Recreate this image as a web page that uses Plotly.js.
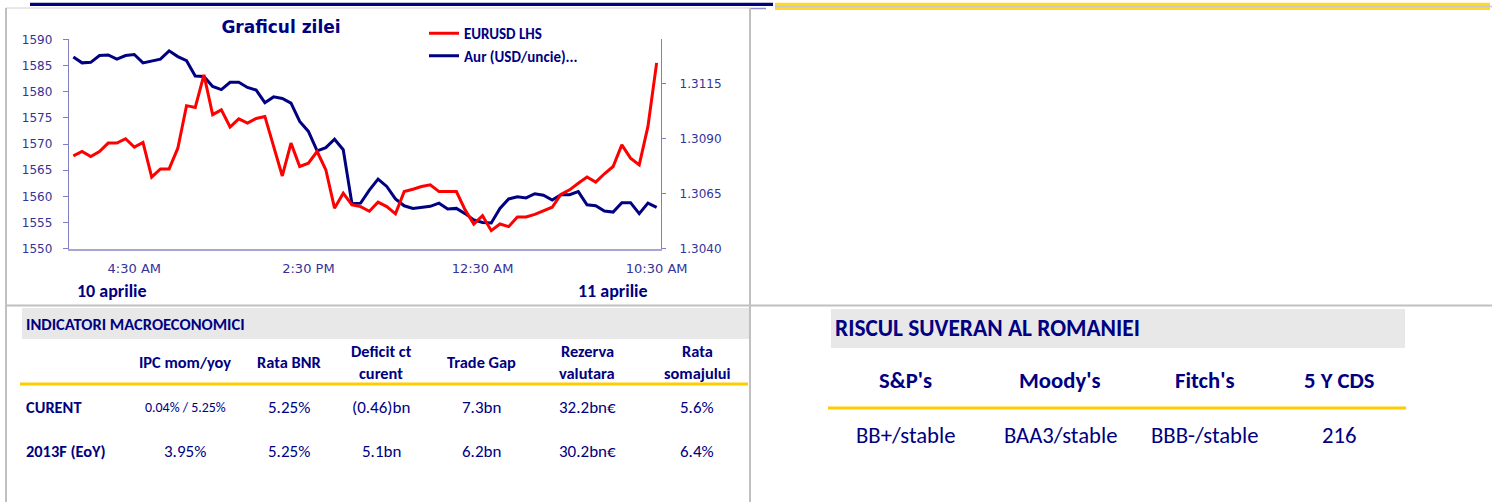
<!DOCTYPE html>
<html>
<head>
<meta charset="utf-8">
<script src="https://cdn.plot.ly/plotly-3.0.1.min.js"></script>
<style>html,body{margin:0;padding:0;background:#fff;}#chart{width:1492px;height:502px;}</style>
</head>
<body>
<div id="chart"></div>
<script>
// ---- data ----
const seriesStart = '2013-04-10 01:00';   // first half-hourly observation
const stepMinutes = 30;
const eurusd = [1.30821,1.30841,1.30818,1.30841,1.30879,1.30879,1.30899,1.30861,1.30882,1.30725,
  1.30762,1.30762,1.30856,1.31049,1.31041,1.31189,1.31008,1.31030,1.30952,1.30989,
  1.30970,1.30991,1.31000,1.30864,1.30730,1.30879,1.30773,1.30788,1.30841,1.30758,
  1.30584,1.30652,1.30599,1.30591,1.30570,1.30611,1.30591,1.30558,1.30659,1.30670,
  1.30682,1.30690,1.30659,1.30659,1.30659,1.30576,1.30512,1.30550,1.30482,1.30512,
  1.30500,1.30544,1.30544,1.30556,1.30571,1.30588,1.30646,1.30667,1.30697,1.30725,
  1.30702,1.30740,1.30773,1.30871,1.30811,1.30780,1.30955,1.31243];
const aur = [1586.6,1585.5,1585.6,1586.9,1587.0,1586.2,1586.9,1587.1,1585.5,1585.9,
  1586.2,1587.8,1586.7,1585.9,1583.0,1582.9,1581.0,1580.4,1581.8,1581.8,
  1580.8,1580.3,1577.9,1579.0,1578.7,1577.8,1574.3,1572.4,1568.7,1569.3,
  1570.9,1568.9,1558.6,1558.7,1561.2,1563.3,1561.9,1559.5,1558.2,1557.7,
  1557.9,1558.1,1558.7,1557.6,1557.7,1556.7,1555.5,1555.0,1554.9,1557.7,
  1559.5,1559.9,1559.7,1560.5,1560.2,1559.3,1560.3,1560.3,1560.9,1558.4,
  1558.2,1557.2,1557.0,1558.8,1558.8,1556.7,1558.7,1557.9];
const xTickVals = ['2013-04-10 04:30','2013-04-10 14:30','2013-04-11 00:30','2013-04-11 10:30'];
const xTickText = ['4:30 AM','2:30 PM','12:30 AM','10:30 AM'];
const dayLabels = ['10 aprilie','11 aprilie'];
const seriesNames = ['EURUSD LHS','Aur (USD/uncie)...'];
const chartTitle = 'Graficul zilei';

const macroTitle = 'INDICATORI MACROECONOMICI';
const macroHeaders = [['IPC mom/yoy'],['Rata BNR'],['Deficit ct','curent'],['Trade Gap'],['Rezerva','valutara'],['Rata','somajului']];
const macroRowNames = ['CURENT','2013F (EoY)'];
const macroCurent = ['0.04% / 5.25%','5.25%','(0.46)bn','7.3bn','32.2bn€','5.6%'];
const macro2013F = ['3.95%','5.25%','5.1bn','6.2bn','30.2bn€','6.4%'];

const riskTitle = 'RISCUL SUVERAN AL ROMANIEI';
const riskHeaders = ["S&P's","Moody's","Fitch's",'5 Y CDS'];
const riskValues = ['BB+/stable','BAA3/stable','BBB-/stable','216'];

// ---- helpers ----
const W = 1492, H = 502;
const px = x => x / W;
const py = y => 1 - y / H;
function pad(n){return (n<10?'0':'')+n;}
const t0 = new Date(seriesStart.replace(' ','T')+':00Z').getTime();
function fmt(ms){const d=new Date(ms);return d.getUTCFullYear()+'-'+pad(d.getUTCMonth()+1)+'-'+pad(d.getUTCDate())+' '+pad(d.getUTCHours())+':'+pad(d.getUTCMinutes());}
const times = eurusd.map((_, i) => fmt(t0 + i*stepMinutes*60000));
const half = stepMinutes*60000/2;
const xRange = [fmt(t0 - half), fmt(t0 + (eurusd.length-1)*stepMinutes*60000 + half)];

const NAVY = '#000080';
const TXT = 'Carlito, Calibri, Lato, sans-serif';
const annotations = [];
function ann(text, x, y, size, bold, anchor, color){
  annotations.push({text: text, xref:'paper', yref:'paper', x: px(x), y: py(y),
    xanchor: anchor || 'center', yanchor:'middle', showarrow:false,
    font:{family: TXT, size: size, color: color || NAVY, weight: bold ? 'bold' : 'normal'}});
}
// day labels under chart
ann(dayLabels[0], 75, 291, 18, true, 'left');
ann(dayLabels[1], 576, 291, 18, true, 'left');

// macro table
const macroX = [185, 289, 381, 481, 587, 697];
const HS = 16.4;
ann(macroTitle, 24, 324, 16.5, true, 'left');
macroHeaders.forEach((h, i) => {
  if (h.length === 1) ann(h[0], macroX[i], 362, HS, true);
  else { ann(h[0], macroX[i], 351, HS, true); ann(h[1], macroX[i], 373, HS, true); }
});
ann(macroRowNames[0], 24, 407, 16.4, true, 'left');
ann(macroRowNames[1], 24, 451, 16.4, true, 'left');
macroCurent.forEach((v, i) => ann(v, macroX[i], 407, i === 0 ? 13.9 : 17, false));
macro2013F.forEach((v, i) => ann(v, macroX[i], 451, 17, false));

// risk table
const riskX = [906, 1060, 1205, 1339];
ann(riskTitle, 833, 328, 23.4, true, 'left');
riskHeaders.forEach((h, i) => ann(h, riskX[i], 380, 22.7, true));
riskValues.forEach((v, i) => ann(v, riskX[i], 435, 22.7, false));

const GRAY = '#C0C0C0';
function line(x0,y0,x1,y1,color,width){return {type:'line',xref:'paper',yref:'paper',x0:px(x0),y0:py(y0),x1:px(x1),y1:py(y1),line:{color:color,width:width}};}
function rect(x0,y0,x1,y1,color){return {type:'rect',xref:'paper',yref:'paper',x0:px(x0),y0:py(y0),x1:px(x1),y1:py(y1),fillcolor:color,line:{width:0},layer:'below'};}
const shapes = [
  line(30,4.3,773,4.3,NAVY,3.3),
  line(750,8.5,766,8.5,'#8C8CD0',1.5),
  rect(775,2.7,1490,10,'#FFD829'),
  line(775,6.5,1492,6.5,'#C8C8C8',1.6),
  line(6,8,750,8,'#D0D0D0',1),
  line(6,8,6,502,GRAY,2),
  line(750,8,750,502,GRAY,2),
  line(6,305.5,1492,305.5,GRAY,2),
  rect(22,308,749,339,'#E8E8E8'),
  rect(831,309,1405,348,'#E8E8E8'),
  line(20,384,748,384,'#FFCC00',3),
  line(828,408,1406,408,'#FFCC00',3)
];

const tickFont = {family:'DejaVu Sans, Verdana, sans-serif', size:12, color:'#333399'};
const xTickFont = {family:'DejaVu Sans, Verdana, sans-serif', size:13, color:'#333399'};
const data = [
  {x: times, y: eurusd, name: seriesNames[0], type:'scatter', mode:'lines', yaxis:'y2',
   line:{color:'#FF0000', width:3}},
  {x: times, y: aur, name: seriesNames[1], type:'scatter', mode:'lines', yaxis:'y',
   line:{color:'#000080', width:3}}
];
const layout = {
  width: W, height: H,
  margin:{l:0,r:0,t:0,b:0},
  paper_bgcolor:'#FFFFFF', plot_bgcolor:'rgba(0,0,0,0)',
  showlegend:true,
  title:{text: chartTitle, xref:'paper', x: px(281), xanchor:'center', yref:'container', y: py(27), yanchor:'middle',
    font:{family:'DejaVu Sans, Verdana, sans-serif', size:17, color:NAVY, weight:'bold'}},
  legend:{x: px(424), y: py(17), xanchor:'left', yanchor:'top', bgcolor:'rgba(0,0,0,0)',
    font:{family:TXT, size:15, color:NAVY, weight:'bold'},
    itemwidth:30, tracegroupgap:0, traceorder:'normal'},
  xaxis:{domain:[px(69), px(661)], type:'date', range: xRange, tickmode:'array', tickvals:xTickVals, ticktext:xTickText,
    showline:true, linecolor:'#A6A6D2', linewidth:2, ticks:'', showgrid:false, zeroline:false,
    tickfont:xTickFont, ticklabelstandoff:7, anchor:'y', fixedrange:true},
  yaxis:{domain:[py(248.7), py(39.3)], range:[1550,1590], tickmode:'linear', tick0:1550, dtick:5,
    showline:true, linecolor:'#8080C0', linewidth:1.2, ticks:'outside', ticklen:5, tickcolor:'#8080C0',
    showgrid:false, zeroline:false, tickfont:tickFont, ticklabelstandoff:8, anchor:'x'},
  yaxis2:{overlaying:'y', side:'right', anchor:'x', range:[1.3040,1.3135], tickmode:'linear', tick0:1.3040, dtick:0.0025,
    tickformat:'.4f', showline:true, linecolor:'#8080C0', linewidth:1.2, ticks:'outside', ticklen:4, tickcolor:'#8080C0',
    showgrid:false, zeroline:false, tickfont:tickFont, ticklabelstandoff:11},
  annotations: annotations,
  shapes: shapes
};
Plotly.newPlot('chart', data, layout, {staticPlot:true, displayModeBar:false});
</script>
</body>
</html>
